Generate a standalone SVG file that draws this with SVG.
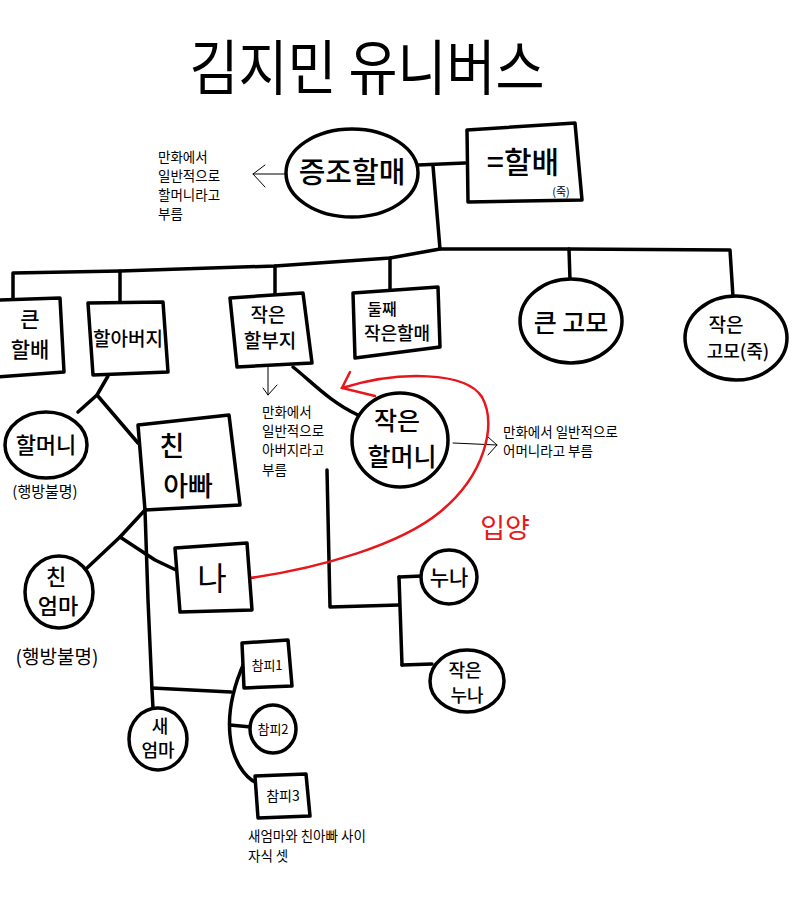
<svg xmlns="http://www.w3.org/2000/svg" width="800" height="900" viewBox="0 0 800 900">
<defs>
<style>
.n{fill:#fff;stroke:#000;stroke-width:3.5;stroke-linejoin:round}
.c{fill:none;stroke:#000;stroke-width:3.5;stroke-linecap:round;stroke-linejoin:round}
.t{fill:none;stroke:#000;stroke-width:1;stroke-linecap:round}
.red{fill:none;stroke:#e8161b;stroke-width:2.5;stroke-linecap:round}
text{font-family:"Noto Sans CJK KR","Noto Sans",sans-serif;text-anchor:middle;fill:#000}
.lb{font-weight:500}
.note{font-size:13.5px;text-anchor:start}
</style>
</defs>
<rect width="800" height="900" fill="#fff"/>
<text x="367" y="90" font-size="60" textLength="355" lengthAdjust="spacingAndGlyphs">김지민 유니버스</text>

<g id="connectors">
<path class="c" d="M418,165 L465,163"/>
<path class="c" d="M433,166 L440,249"/>
<path class="c" d="M13,298 L13,273 L120,271 L275,266 L390,258 L440,249 L569,249 L730,250 L733,297"/>
<path class="c" d="M120,271 L120,302"/>
<path class="c" d="M275,266 L275,296"/>
<path class="c" d="M390,258 L390,290"/>
<path class="c" d="M569,249 L570,280"/>
<path class="c" d="M108,376 L97,395 L78,412"/>
<path class="c" d="M97,395 L138,443"/>
<path class="c" d="M145,510 L148,600 L152,690 L153,708"/>
<path class="c" d="M145,510 L120,537 L87,568"/>
<path class="c" d="M120,537 L155,560 L176,570"/>
<path class="c" d="M152,688 L231,692"/>
<path class="c" d="M244,663 C232,690 228,715 230,735 C232,760 245,778 257,783"/>
<path class="c" d="M230,725 L251,727"/>
<path class="c" d="M293,367 C312,382 330,402 358,415"/>
<path class="c" d="M327,470 L330,607 L399,605"/>
<path class="c" d="M399,577 L402,665"/>
<path class="c" d="M399,577 L422,576"/>
<path class="c" d="M402,665 L432,664"/>
<path class="t" d="M285,174 L253,174 M265,165 L253,174 L265,187"/>
<path class="t" d="M268,367 L268,395 M263,388 L268,395 L277,385"/>
<path class="t" d="M453,443 L497,445 M488,437 L497,445 L488,455"/>
<path class="red" d="M250,578 C320,568 400,545 440,512 C485,475 497,425 482,397 C466,372 400,370 342,388"/>
<path class="red" d="M350,372 L342,388 L375,396"/>
</g>

<g id="n-title-note">
<text class="note" x="158" y="162">만화에서</text>
<text class="note" x="158" y="181">일반적으로</text>
<text class="note" x="158" y="200">할머니라고</text>
<text class="note" x="158" y="219">부름</text>
</g>
<g id="n-jeungjo"><ellipse class="n" cx="352" cy="173" rx="66" ry="44"/><text class="lb" x="352" y="183" font-size="29">증조할매</text></g>
<g id="n-halbae"><path class="n" d="M467,130 L575,123 L582,200 L468,202 Z"/><text class="lb" x="523" y="173" font-size="30">=할배</text><text x="561" y="196" font-size="11">(죽)</text></g>
<g id="n-keunhalbae"><path class="n" d="M-2,300 L60,298 L64,372 L-2,377 Z"/><text class="lb" x="30" y="327" font-size="21">큰</text><text class="lb" x="30" y="357" font-size="21">할배</text></g>
<g id="n-harabeoji"><path class="n" d="M88,303 L163,302 L168,372 L93,375 Z"/><text class="lb" x="128" y="346" font-size="19">할아버지</text></g>
<g id="n-jageunhalbuji"><path class="n" d="M230,298 L303,293 L312,363 L237,367 Z"/><text class="lb" x="268" y="322" font-size="19">작은</text><text class="lb" x="270" y="348" font-size="19">할부지</text></g>
<g id="n-dulljjae"><path class="n" d="M353,293 L438,287 L440,347 L355,358 Z"/><text class="lb" x="382" y="315" font-size="16">둘째</text><text class="lb" x="397" y="340" font-size="18">작은할매</text></g>
<g id="n-keungomo"><ellipse class="n" cx="571" cy="321" rx="51" ry="42"/><text class="lb" x="571" y="332" font-size="25">큰 고모</text></g>
<g id="n-jageungomo"><ellipse class="n" cx="736" cy="338" rx="51" ry="42"/><text class="lb" x="726" y="332" font-size="19">작은</text><text class="lb" x="738" y="358" font-size="18">고모(죽)</text></g>

<g id="n-halmeoni"><ellipse class="n" cx="46" cy="445" rx="41" ry="33"/><text class="lb" x="46" y="453" font-size="22">할머니</text><text x="45" y="497" font-size="15">(행방불명)</text></g>
<g id="n-chinappa"><path class="n" d="M138,425 L229,415 L240,505 L145,510 Z"/><text class="lb" x="172" y="456" font-size="27">친</text><text class="lb" x="188" y="496" font-size="27">아빠</text></g>
<g id="n-chineomma"><ellipse class="n" cx="59" cy="592" rx="34" ry="36"/><text class="lb" x="56" y="585" font-size="22">친</text><text class="lb" x="58" y="614" font-size="22">엄마</text><text x="57" y="664" font-size="19">(행방불명)</text></g>
<g id="n-na"><path class="n" d="M175,548 L247,543 L252,610 L180,612 Z"/><text x="212" y="590" font-size="32">나</text></g>
<g id="n-saeomma"><ellipse class="n" cx="158" cy="739" rx="29" ry="31"/><text class="lb" x="160" y="733" font-size="18">새</text><text class="lb" x="158" y="757" font-size="18">엄마</text></g>
<g id="n-champi1"><path class="n" d="M242,643 L288,640 L292,686 L244,688 Z"/><text x="267" y="670" font-size="13">참피1</text></g>
<g id="n-champi2"><ellipse class="n" cx="273" cy="729" rx="23" ry="24"/><text x="273" y="734" font-size="13">참피2</text></g>
<g id="n-champi3"><path class="n" d="M255,776 L306,774 L310,816 L258,818 Z"/><text x="283" y="801" font-size="14">참피3</text></g>
<g id="n-children-note"><text class="note" x="248" y="841">새엄마와 친아빠 사이</text><text class="note" x="248" y="861">자식 셋</text></g>

<g id="n-father-note"><text class="note" x="262" y="417">만화에서</text><text class="note" x="262" y="436">일반적으로</text><text class="note" x="262" y="455">아버지라고</text><text class="note" x="262" y="475">부름</text></g>
<g id="n-jageunhalmeoni"><ellipse class="n" cx="400" cy="440" rx="48" ry="47"/><text class="lb" x="397" y="430" font-size="25">작은</text><text class="lb" x="402" y="466" font-size="25">할머니</text></g>
<g id="n-mother-note"><text class="note" x="503" y="437">만화에서 일반적으로</text><text class="note" x="503" y="456">어머니라고 부름</text></g>
<g id="n-ipyang"><text x="505" y="538" font-size="27" style="fill:#e8161b">입양</text></g>
<g id="n-nuna"><ellipse class="n" cx="449" cy="577" rx="28" ry="27"/><text class="lb" x="449" y="585" font-size="21">누나</text></g>
<g id="n-jageunnuna"><ellipse class="n" cx="467" cy="681" rx="37" ry="31"/><text class="lb" x="465" y="677" font-size="18">작은</text><text class="lb" x="467" y="702" font-size="18">누나</text></g>
</svg>
